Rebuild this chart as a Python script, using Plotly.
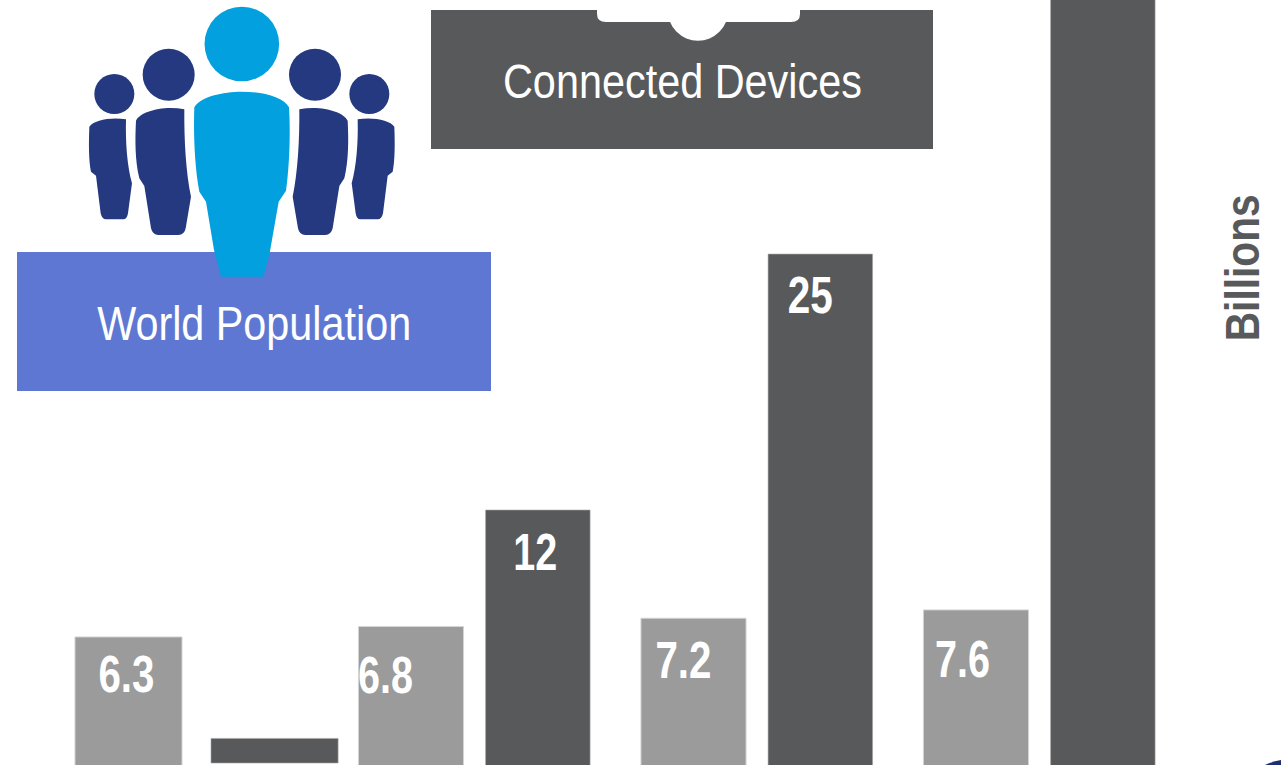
import json

import plotly.graph_objects as go

# Billions, by period
periods = [0, 1, 2, 3]
population = [6.3, 6.8, 7.2, 7.6]
devices = [0.4, 12, 25, 50]
device_labels = [None, "12", "25", None]
population_labels = ["6.3", "6.8", "7.2", "7.6"]

W, H = 1281, 765
PERIOD_PX = 282.5
FIRST_PX = 128.5

DARK = "#58595b"
GREY = "#9b9b9b"
BLUE = "#5e77d2"
NAVY = "#24397f"
CYAN = "#03a0df"
SANS = "Liberation Sans, Arial, sans-serif"

# Horizontal placement of the bars within each period
population_widths = [0.379, 0.372, 0.372, 0.372]
device_offsets = [0.517, 0.449, 0.449, 0.449]
device_widths = [0.45, 0.37, 0.37, 0.37]
device_bases = [-0.85, -2, -2, -2]

# Set widths that give the labels their condensed look
condensed_widths = {
    "6.3": 56, "6.8": 55, "7.2": 56, "7.6": 55, "12": 44, "25": 45,
    "World Population": 314, "Connected Devices": 359, "Billions": 147,
}


def px(x):
    return x / W


def py(y):
    return 1 - y / H


def icon_path(commands, mirror=False):
    """Build an SVG path from icon-space points (three units to a pixel)."""
    parts = []
    for cmd, *pts in commands:
        coords = []
        for x, y in pts:
            x = 1451 - x if mirror else x
            coords.append(f"{px(x / 3):.5f},{py(y / 3):.5f}")
        parts.append(cmd + " ".join(coords))
    return " ".join(parts) + " Z"


def rect(x0, y0, x1, y1, color):
    return dict(type="rect", xref="paper", yref="paper", x0=px(x0), x1=px(x1),
                y0=py(y1), y1=py(y0), fillcolor=color, line_width=0, layer="below")


def circle(cx, cy, r, color):
    return dict(type="circle", xref="paper", yref="paper", x0=px(cx - r), x1=px(cx + r),
                y0=py(cy + r), y1=py(cy - r), fillcolor=color, line_width=0, layer="below")


def path(d, color):
    return dict(type="path", xref="paper", yref="paper", path=d, fillcolor=color,
                line_width=0, layer="below")


CENTER_BODY = [
    ("M", (583, 322)), ("C", (600, 290), (670, 275), (725, 275)),
    ("C", (785, 275), (850, 290), (867, 322)),
    ("C", (872, 400), (868, 500), (858, 572)),
    ("L", (836, 605)), ("L", (808, 765)), ("L", (790, 830)), ("L", (663, 830)),
    ("L", (642, 750)), ("L", (618, 605)), ("L", (598, 575)),
    ("C", (584, 500), (580, 400), (583, 322)),
]
INNER_BODY = [
    ("M", (408, 362)), ("C", (420, 335), (490, 315), (553, 328)),
    ("C", (552, 420), (558, 520), (573, 590)),
    ("L", (557, 685)), ("Q", (553, 705), (535, 705)), ("L", (475, 705)),
    ("Q", (458, 705), (453, 685)), ("L", (433, 558)), ("L", (418, 535)),
    ("C", (405, 480), (405, 420), (408, 362)),
]
OUTER_BODY = [
    ("M", (268, 380)), ("C", (280, 360), (335, 350), (378, 358)),
    ("C", (376, 430), (382, 500), (396, 550)),
    ("L", (384, 640)), ("Q", (381, 658), (370, 658)), ("L", (318, 658)),
    ("Q", (306, 658), (302, 640)), ("L", (288, 527)), ("L", (273, 515)),
    ("C", (266, 480), (266, 430), (268, 380)),
]

shapes = [
    rect(17, 252, 491, 391, BLUE),
    rect(431, 10, 933, 149, DARK),
    # Foot of the device icon cutting into the caption box
    circle(698, 10.4, 30.3, "white"),
    dict(type="path", xref="paper", yref="paper", fillcolor="white", line_width=0, layer="below",
         path=f"M{px(597)},{py(8)} L{px(597)},{py(14)} Q{px(597)},{py(22)} {px(606)},{py(22)} "
              f"L{px(791)},{py(22)} Q{px(800)},{py(22)} {px(800)},{py(14)} L{px(800)},{py(8)} Z"),
    # Group of people
    circle(343 / 3, 282 / 3, 20, NAVY),
    circle(1108 / 3, 282 / 3, 20, NAVY),
    circle(506 / 3, 224 / 3, 26, NAVY),
    circle(945 / 3, 224 / 3, 26, NAVY),
    path(icon_path(OUTER_BODY), NAVY),
    path(icon_path(OUTER_BODY, mirror=True), NAVY),
    path(icon_path(INNER_BODY), NAVY),
    path(icon_path(INNER_BODY, mirror=True), NAVY),
    circle(725.5 / 3, 132 / 3, 37.3, CYAN),
    path(icon_path(CENTER_BODY), CYAN),
    # Corner of the graphic that runs off the lower right edge
    dict(type="path", xref="paper", yref="paper", fillcolor="#1d2f6f", line_width=0, layer="below",
         path=f"M{px(1265)},{py(765)} Q{px(1271)},{py(762)} {px(1281)},{py(760)} "
              f"L{px(1281)},{py(765)} Z"),
]

fig = go.Figure()
fig.add_trace(go.Bar(
    x=periods, y=population, width=population_widths, yaxis="y", xaxis="x",
    marker=dict(color=GREY, line=dict(color="#d4d4d4", width=1)),
    hoverinfo="skip", showlegend=False,
))
fig.add_trace(go.Bar(
    x=[p + o for p, o in zip(periods, device_offsets)],
    y=[v - b for v, b in zip(devices, device_bases)],
    base=device_bases, width=device_widths, yaxis="y2", xaxis="x",
    marker=dict(color=DARK, line=dict(color="#a8a8a8", width=0.6)),
    hoverinfo="skip", showlegend=False,
))

annotations = []
value_font = dict(family=SANS, size=51, color="white", weight="bold")
population_shift = [(-2.5, -37.5), (-25.5, -49), (-10, -42), (-13.5, -50)]
for p, v, t, (dx, dy) in zip(periods, population, population_labels, population_shift):
    annotations.append(dict(x=p, y=v, xref="x", yref="y", text=t, showarrow=False,
                            xshift=dx, yshift=dy, font=value_font))
device_shift = [None, (-2, -42), (-10, -41.5), None]
for p, o, v, t, s in zip(periods, device_offsets, devices, device_labels, device_shift):
    if t:
        annotations.append(dict(x=p + o, y=v, xref="x", yref="y2", text=t, showarrow=False,
                                xshift=s[0], yshift=s[1], font=value_font))

caption_font = dict(family=SANS, size=49, color="white")
annotations += [
    dict(x=px(254), y=py(323), xref="paper", yref="paper", text="World Population",
         xanchor="center", yanchor="middle", showarrow=False, font=caption_font),
    dict(x=px(682), y=py(81), xref="paper", yref="paper", text="Connected Devices",
         xanchor="center", yanchor="middle", showarrow=False, font=caption_font),
    dict(x=px(1242), y=py(268.5), xref="paper", yref="paper", text="Billions", textangle=-90,
         xanchor="center", yanchor="middle", showarrow=False,
         font=dict(family=SANS, size=48, color=DARK, weight="bold")),
]

fig.update_layout(
    width=W, height=H, margin=dict(l=0, r=0, t=0, b=0),
    paper_bgcolor="white", plot_bgcolor="white",
    barmode="overlay", showlegend=False,
    xaxis=dict(range=[-FIRST_PX / PERIOD_PX, (W - FIRST_PX) / PERIOD_PX], visible=False),
    yaxis=dict(range=[(768 - H) / 20.8, 768 / 20.8], visible=False),
    yaxis2=dict(range=[(746.3 - H) / 19.69, 746.3 / 19.69], visible=False,
                overlaying="y", side="right"),
    shapes=shapes, annotations=annotations,
)

# Squeeze the labels horizontally once the page has drawn them
condense = (
    "var widths = " + json.dumps(condensed_widths) + ";"
    "document.querySelectorAll('.annotation-text').forEach(function (t) {"
    "  var w = widths[t.textContent];"
    "  if (w) { t.setAttribute('textLength', w);"
    "           t.setAttribute('lengthAdjust', 'spacingAndGlyphs'); }"
    "});"
)

fig.write_html("out.html", config=dict(displayModeBar=False), post_script=condense)
